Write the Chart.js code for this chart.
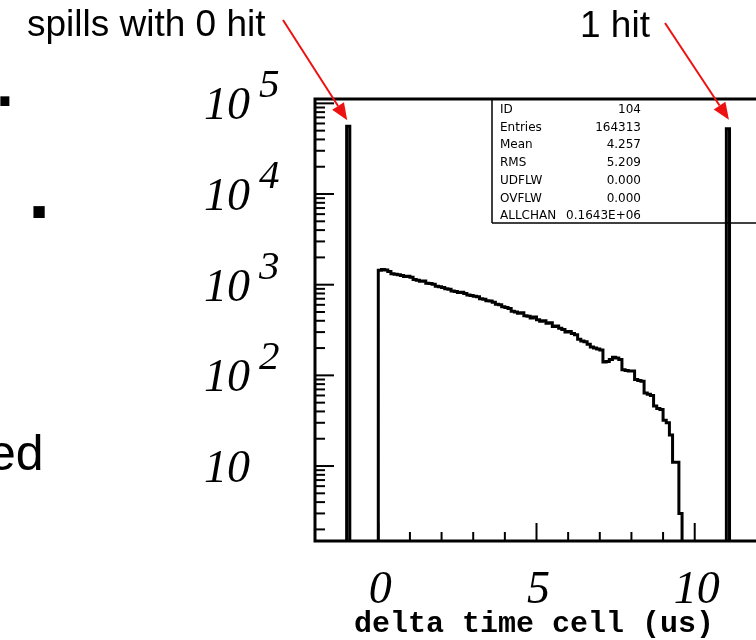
<!DOCTYPE html>
<html>
<head>
<meta charset="utf-8">
<script src="https://cdn.jsdelivr.net/npm/chart.js@4.4.1/dist/chart.umd.min.js"></script>
<style>
  html, body { margin: 0; padding: 0; background: #fff; overflow: hidden; width: 756px; height: 640px; }
  #wrap { position: absolute; left: 0; top: 0; width: 800px; height: 640px; }
</style>
</head>
<body>
<div id="wrap"><canvas id="chart" width="800" height="640"></canvas></div>
<script>
// delta time cell histogram, 0.1 us bins starting at 0
const binStart = 0;
const binWidth = 0.1;
const counts = [
  1440, 1470, 1450, 1400, 1320, 1300, 1290, 1260, 1230, 1240,
  1210, 1140, 1120, 1090, 1100, 1040, 1030, 1010, 960, 950,
  930, 900, 890, 850, 840, 820, 825, 800, 770, 760,
  745, 735, 700, 690, 665, 660, 640, 610, 600, 570,
  560, 545, 510, 500, 485, 490, 455, 450, 430, 440,
  410, 395, 400, 375, 380, 345, 350, 330, 320, 300,
  305, 290, 280, 250, 240, 235, 220, 205, 200, 195,
  190, 140, 142, 150, 158, 155, 150, 115, 113, 112,
  112, 90, 88, 86, 64, 62, 60, 46, 43, 42,
  32, 30, 22, 11, 11, 3
];
// spills with 0 hit / 1 hit, single bins
const zeroHitBin = [-1.0, -0.9];
const zeroHitCount = 55800;
const oneHitBin = [11.0, 11.1];
const oneHitCount = 52500;

const xMin = -2, xMax = 12;
const yMin = 1.49, yMax = 111700;
const xLabels = [0, 5, 10];
const yDecades = [1, 2, 3, 4, 5];
const statNames = ['ID', 'Entries', 'Mean', 'RMS', 'UDFLW', 'OVFLW', 'ALLCHAN'];
const statValues = ['104', '164313', '4.257', '5.209', '0.000', '0.000', '0.1643E+06'];

function histPoints(start, width, vals) {
  const floor = 1; // below the axis minimum, gets clipped
  const pts = [{ x: start, y: floor }];
  vals.forEach((v, i) => pts.push({ x: start + i * width, y: v }));
  pts.push({ x: start + vals.length * width, y: floor });
  return pts;
}

function line(ctx, x1, y1, x2, y2) {
  ctx.beginPath();
  ctx.moveTo(x1, y1);
  ctx.lineTo(x2, y2);
  ctx.stroke();
}

function arrow(ctx, x1, y1, x2, y2) {
  const ang = Math.atan2(y2 - y1, x2 - x1);
  const head = 17, half = 7;
  const bx = x2 - head * Math.cos(ang), by = y2 - head * Math.sin(ang);
  ctx.strokeStyle = '#ee1111';
  ctx.fillStyle = '#ee1111';
  ctx.lineWidth = 2;
  line(ctx, x1, y1, bx, by);
  ctx.beginPath();
  ctx.moveTo(x2, y2);
  ctx.lineTo(bx + half * Math.sin(ang), by - half * Math.cos(ang));
  ctx.lineTo(bx - half * Math.sin(ang), by + half * Math.cos(ang));
  ctx.closePath();
  ctx.fill();
}

const pawFrame = {
  id: 'pawFrame',
  afterDraw(chart) {
    const { ctx, chartArea: a, scales } = chart;
    const xs = scales.x, ys = scales.y;
    ctx.save();
    ctx.strokeStyle = '#000';
    ctx.lineCap = 'butt';

    // y ticks (log decades)
    ctx.lineWidth = 2;
    for (let d = 0; d <= 5; d++) {
      for (let m = 1; m <= 9; m++) {
        const v = m * Math.pow(10, d);
        if (v <= yMin || v >= yMax) continue;
        const py = ys.getPixelForValue(v);
        line(ctx, a.left, py, a.left + (m === 1 ? 19 : 10), py);
      }
    }
    // x ticks, 0..10 only
    for (let i = 0; i <= 10; i++) {
      const px = xs.getPixelForValue(i);
      line(ctx, px, a.bottom, px, a.bottom - (i % 5 === 0 ? 18 : 9));
    }

    // frame
    ctx.lineWidth = 3;
    ctx.strokeRect(a.left, a.top, a.right - a.left, a.bottom - a.top);

    // y labels
    ctx.fillStyle = '#000';
    ctx.textBaseline = 'alphabetic';
    yDecades.forEach(d => {
      const py = ys.getPixelForValue(Math.pow(10, d));
      ctx.font = 'italic 46px "Liberation Serif"';
      ctx.textAlign = 'left';
      ctx.fillText('10', 204, py + 16);
      if (d > 1) {
        ctx.font = 'italic 41px "Liberation Serif"';
        ctx.fillText(String(d), 259, py - 6);
      }
    });

    // x labels
    ctx.font = 'italic 46px "Liberation Serif"';
    ctx.textAlign = 'center';
    xLabels.forEach(v => {
      ctx.fillText(String(v), xs.getPixelForValue(v) + 2, 603);
    });
    ctx.font = 'bold 30px "Liberation Mono"';
    ctx.fillText('delta time cell (us)', 534, 632);

    // statistics box
    ctx.lineWidth = 1.5;
    line(ctx, 492, a.top, 492, 223);
    line(ctx, 492, 223, a.right, 223);
    ctx.font = '12px "DejaVu Sans"';
    statNames.forEach((name, i) => {
      const by = 113 + i * 17.7;
      ctx.textAlign = 'left';
      ctx.fillText(name, 500, by);
      ctx.textAlign = 'right';
      ctx.fillText(statValues[i], 641, by);
    });

    // slide annotations
    ctx.textAlign = 'left';
    ctx.font = '37px "Liberation Sans"';
    ctx.fillText('spills with 0 hit', 27, 36);
    ctx.fillText('1 hit', 580, 37);
    const zx = xs.getPixelForValue((zeroHitBin[0] + zeroHitBin[1]) / 2);
    const zy = ys.getPixelForValue(zeroHitCount);
    arrow(ctx, 283, 20, zx - 1, zy - 6);
    const ox = xs.getPixelForValue((oneHitBin[0] + oneHitBin[1]) / 2);
    const oy = ys.getPixelForValue(oneHitCount);
    arrow(ctx, 665, 23, ox + 1, oy - 9);

    // cut-off slide text on the left
    ctx.fillStyle = '#000';
    ctx.font = 'bold 80px "Liberation Sans"';
    ctx.fillText('.', 28, 218);
    ctx.font = 'bold 64px "Liberation Sans"';
    ctx.fillText('.', -4, 106);
    ctx.font = '50px "Liberation Sans"';
    ctx.fillText('ed', -12, 470);
    ctx.restore();
  }
};

const histStyle = {
  borderColor: '#000',
  borderWidth: 3,
  pointRadius: 0,
  fill: false,
  stepped: 'before',
  borderJoinStyle: 'miter'
};

new Chart(document.getElementById('chart'), {
  type: 'line',
  data: {
    datasets: [
      Object.assign({ label: 'delta t', data: histPoints(binStart, binWidth, counts) }, histStyle),
      Object.assign({ label: '0 hit', data: histPoints(zeroHitBin[0], zeroHitBin[1] - zeroHitBin[0], [zeroHitCount]) }, histStyle),
      Object.assign({ label: '1 hit', data: histPoints(oneHitBin[0], oneHitBin[1] - oneHitBin[0], [oneHitCount]) }, histStyle)
    ]
  },
  options: {
    responsive: false,
    animation: false,
    parsing: false,
    layout: { padding: { left: 315, top: 99, right: 42, bottom: 99 } },
    plugins: { legend: { display: false }, tooltip: { enabled: false } },
    scales: {
      x: { type: 'linear', min: xMin, max: xMax, display: false },
      y: { type: 'logarithmic', min: yMin, max: yMax, display: false }
    }
  },
  plugins: [pawFrame]
});
</script>
</body>
</html>
